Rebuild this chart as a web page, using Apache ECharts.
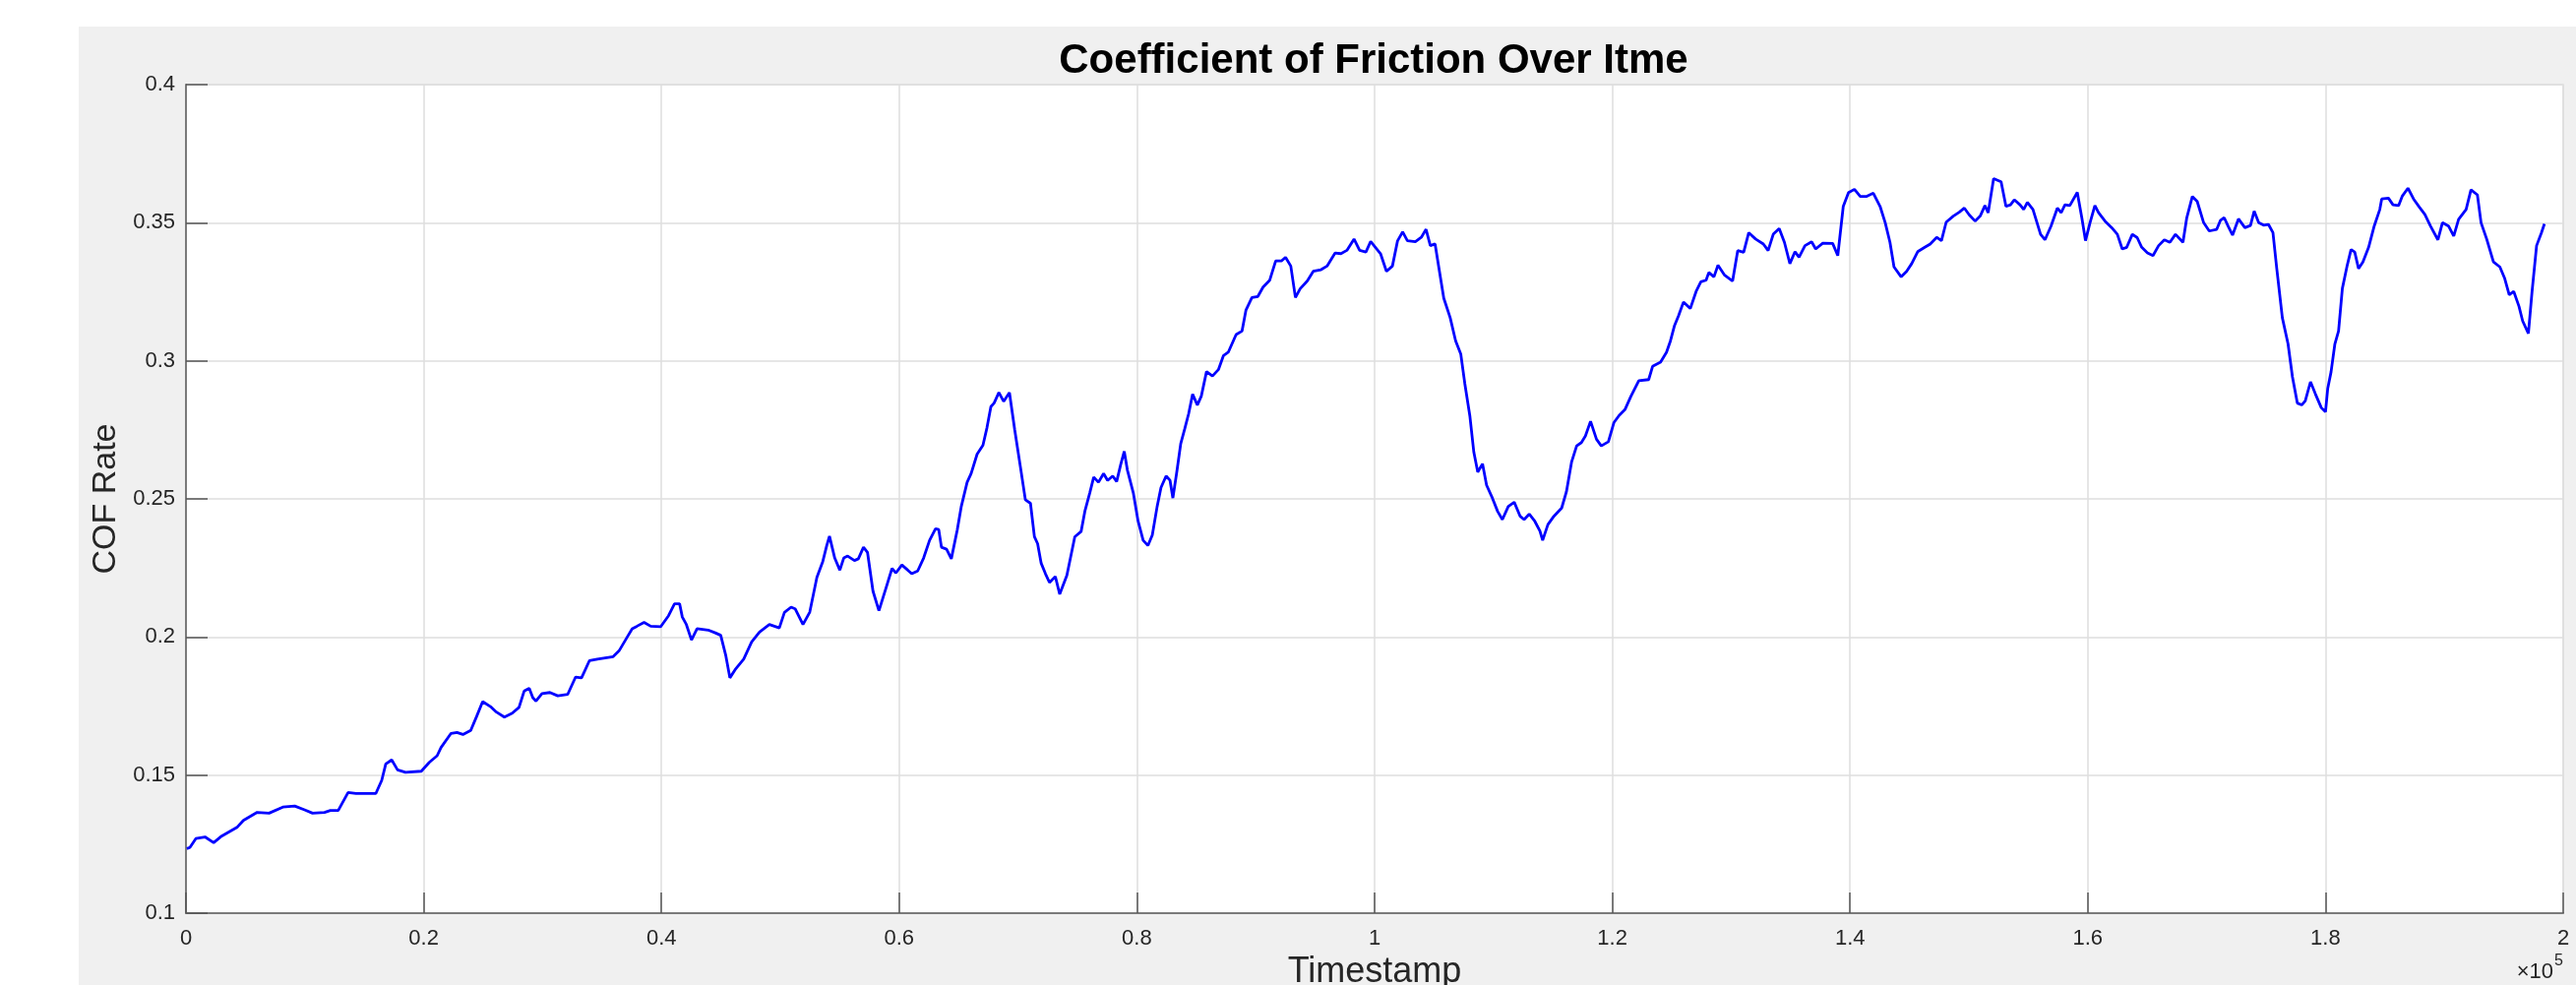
<!DOCTYPE html>
<html>
<head>
<meta charset="utf-8">
<title>Coefficient of Friction Over Itme</title>
<script src="https://cdn.jsdelivr.net/npm/echarts@6/dist/echarts.min.js"></script>
<style>
html, body { margin: 0; padding: 0; background: #fff; }
#chart { width: 2618px; height: 1001px; }
</style>
</head>
<body>
<div id="chart"></div>
<script>
// timestamps are in units of 10^5 (axis shows the x10^5 multiplier)
var timestampE5 = [
  0.0007, 0.0033, 0.0083, 0.016, 0.0233, 0.03, 0.0433, 0.0483, 0.0599, 0.0699,
  0.0815, 0.0915, 0.0998, 0.1065, 0.1165, 0.1215, 0.1281, 0.1364, 0.1431, 0.1597,
  0.1647, 0.1681, 0.1731, 0.178, 0.1847, 0.198, 0.2047, 0.2113, 0.2146, 0.223,
  0.228, 0.233, 0.2396, 0.2446, 0.2496, 0.2562, 0.2612, 0.2679, 0.2745, 0.2802,
  0.2845, 0.2888, 0.2918, 0.2945, 0.2995, 0.3062, 0.3128, 0.3211, 0.3278, 0.3328,
  0.3394, 0.3461, 0.3594, 0.3644, 0.371, 0.3754, 0.3794, 0.3854, 0.391, 0.3993,
  0.406, 0.411, 0.4153, 0.4176, 0.421, 0.4253, 0.43, 0.4393, 0.4453, 0.4499,
  0.4542, 0.4576, 0.4626, 0.4692, 0.4759, 0.4825, 0.4908, 0.4992,
  0.5035, 0.5091, 0.5125, 0.5191, 0.5248, 0.5308, 0.5358, 0.5391, 0.5414, 0.5458,
  0.5501, 0.5534, 0.5567, 0.5624, 0.5657, 0.57, 0.5734, 0.578, 0.583, 0.589,
  0.594, 0.5973, 0.6023, 0.6073, 0.6106, 0.6156, 0.6206, 0.6256, 0.6306, 0.6333,
  0.6356, 0.6399, 0.6439, 0.6489, 0.6522, 0.6572, 0.6606, 0.6656, 0.6705, 0.6739,
  0.6772, 0.6799, 0.6839, 0.6879, 0.6928, 0.6972, 0.7022, 0.7062, 0.7105, 0.7138,
  0.7165, 0.7195, 0.7231, 0.7265, 0.7314, 0.7351, 0.7411, 0.7478, 0.7531, 0.7564,
  0.7604, 0.7637, 0.7677, 0.772, 0.7754, 0.7797, 0.783, 0.7864, 0.7894, 0.792,
  0.797, 0.801, 0.8053, 0.8093, 0.813, 0.817, 0.8203, 0.8246, 0.8279, 0.8303,
  0.8336, 0.8369, 0.8403, 0.8436, 0.8469, 0.8509, 0.8542, 0.8586, 0.8636, 0.8686,
  0.8729, 0.8769, 0.8835, 0.8885, 0.8918, 0.8968, 0.9018, 0.9062, 0.9118, 0.9168,
  0.9218, 0.9251, 0.9295, 0.9334, 0.9374, 0.9434, 0.9484, 0.955, 0.96, 0.9667,
  0.9717, 0.9767, 0.9827, 0.9874, 0.9927, 0.9967, 1.005, 1.01, 1.015, 1.0193,
  1.0236, 1.0276, 1.0343, 1.0393, 1.0433, 1.0469, 1.0509, 1.0542, 1.0582, 1.0636,
  1.0682, 1.0725, 1.0759, 1.0802, 1.0835, 1.0868, 1.0908, 1.0942, 1.0992, 1.1035,
  1.1075, 1.1125, 1.1175, 1.1225, 1.1258, 1.1301, 1.1348, 1.1391, 1.1414, 1.1458,
  1.1508, 1.1574, 1.1614, 1.1657, 1.17, 1.174, 1.1774, 1.1817, 1.1867, 1.1907,
  1.1967, 1.2013, 1.2057, 1.2106, 1.2156, 1.2223, 1.2306, 1.2339, 1.2406, 1.2456,
  1.2489, 1.2522, 1.2556, 1.2599, 1.2656, 1.2705, 1.2745, 1.2789, 1.2812, 1.2855,
  1.2889, 1.2945, 1.3012, 1.3055, 1.3105, 1.3148, 1.3205, 1.3271, 1.3311, 1.3354,
  1.3404, 1.3448, 1.3494, 1.3537, 1.3571, 1.3621, 1.3677, 1.3711, 1.3771, 1.3854,
  1.3897, 1.3943, 1.3987, 1.4037, 1.4086, 1.4136, 1.4196, 1.4253, 1.4296, 1.4336,
  1.437, 1.443, 1.4476, 1.4519, 1.4569, 1.4629, 1.4675, 1.4729, 1.4769, 1.4809,
  1.4869, 1.4919, 1.4962, 1.5002, 1.5052, 1.5095, 1.5135, 1.5162,
  1.5208, 1.5271, 1.5312, 1.535, 1.5382, 1.543, 1.5461, 1.5492, 1.5539, 1.5603,
  1.564, 1.5691, 1.5744, 1.5776, 1.5808, 1.5849, 1.5912, 1.595, 1.5981, 1.6019,
  1.606, 1.6091, 1.6145, 1.6202, 1.6249, 1.629, 1.6328, 1.6375, 1.6416, 1.6454,
  1.6502, 1.6549, 1.6596, 1.6644, 1.6691, 1.6738, 1.6801, 1.6833, 1.688, 1.6921,
  1.6975, 1.7022, 1.7085, 1.7117, 1.7148, 1.718, 1.7218, 1.7268, 1.7322, 1.7369,
  1.74, 1.7438, 1.7479, 1.752, 1.7558, 1.759, 1.7637, 1.7685, 1.7722, 1.7763,
  1.78, 1.783, 1.7874, 1.7915, 1.7965, 1.8, 1.8019, 1.8047, 1.8079, 1.811,
  1.8142, 1.8183, 1.8215, 1.8246, 1.8278, 1.8315, 1.8363, 1.841, 1.8457, 1.8473,
  1.853, 1.8568, 1.8615, 1.8647, 1.8694, 1.8741, 1.8789, 1.8836, 1.8883, 1.8946,
  1.8984, 1.9035, 1.9079, 1.912, 1.9183, 1.9224, 1.9278, 1.9309, 1.9356, 1.9413,
  1.9467, 1.9508, 1.9546, 1.9584, 1.9628, 1.9659, 1.9707, 1.9738, 1.9776, 1.9817,
  1.9842
];
var cofRate = [
  0.1234, 0.1238, 0.127, 0.1276, 0.1255, 0.1279, 0.1312, 0.1336, 0.1365, 0.1362,
  0.1384, 0.1388, 0.1374, 0.1362, 0.1365, 0.1372, 0.1372, 0.1437, 0.1433, 0.1433,
  0.1481, 0.154, 0.1555, 0.1519, 0.151, 0.1514, 0.1546, 0.157, 0.16, 0.1651,
  0.1654, 0.1647, 0.1662, 0.1713, 0.1766, 0.1748, 0.1728, 0.171, 0.1724, 0.1745,
  0.1804, 0.1814, 0.178, 0.1768, 0.1795, 0.1799, 0.1787, 0.1792, 0.1855, 0.1852,
  0.1914, 0.192, 0.1929, 0.195, 0.1998, 0.203, 0.2039, 0.2053, 0.2039, 0.2037,
  0.2077, 0.212, 0.212, 0.2072, 0.2045, 0.1989, 0.203, 0.2025, 0.2015, 0.2006,
  0.1932, 0.1852, 0.1885, 0.192, 0.1982, 0.2018, 0.2045, 0.2033,
  0.2089, 0.2108, 0.2102, 0.2045, 0.209, 0.2216, 0.2274, 0.2331, 0.2365, 0.2286,
  0.2242, 0.2286, 0.2293, 0.2277, 0.2283, 0.2325, 0.2306, 0.2166, 0.2095, 0.2178,
  0.2248, 0.2232, 0.2261, 0.2242, 0.2229, 0.2239, 0.2286, 0.235, 0.2392, 0.2389,
  0.2325, 0.2318, 0.2283, 0.2388, 0.2471, 0.256, 0.2592, 0.2662, 0.2694, 0.2758,
  0.2834, 0.2847, 0.2885, 0.2853, 0.2885, 0.2751, 0.2611, 0.2497, 0.2484, 0.2363,
  0.2338, 0.2267, 0.2229, 0.2197, 0.2219, 0.2155, 0.2223, 0.2363, 0.2382, 0.2458,
  0.2522, 0.2579, 0.256, 0.2592, 0.2567, 0.2583, 0.2563, 0.2624, 0.2672, 0.2605,
  0.2522, 0.242, 0.235, 0.2331, 0.2369, 0.2471, 0.2541, 0.2583, 0.2567, 0.2503,
  0.2598, 0.27, 0.2754, 0.2809, 0.2879, 0.284, 0.2872, 0.2961, 0.2945, 0.2968,
  0.3019, 0.3031, 0.3095, 0.3108, 0.3184, 0.3229, 0.3233, 0.3267, 0.3292, 0.3362,
  0.3362, 0.3375, 0.3343, 0.3229, 0.3261, 0.3289, 0.3324, 0.333, 0.3343, 0.339,
  0.3388, 0.34, 0.3441, 0.34, 0.3394, 0.3432, 0.3388, 0.3324, 0.3343, 0.3434,
  0.3467, 0.3435, 0.3431, 0.3447, 0.3476, 0.3417, 0.3423, 0.3334, 0.3227, 0.3156,
  0.3072, 0.3025, 0.2918, 0.2799, 0.2669, 0.2597, 0.2627, 0.255, 0.2502, 0.2455,
  0.2425, 0.2473, 0.2488, 0.2437, 0.2425, 0.2445, 0.2419, 0.2384, 0.235, 0.2407,
  0.2437, 0.2467, 0.2526, 0.2633, 0.2692, 0.2704, 0.2728, 0.2781, 0.2716, 0.2692,
  0.2707, 0.2776, 0.2802, 0.2823, 0.2871, 0.2928, 0.2932, 0.298, 0.2995, 0.3031,
  0.3072, 0.3126, 0.3162, 0.3213, 0.3189, 0.3251, 0.3286, 0.3292, 0.332, 0.3304,
  0.3346, 0.331, 0.3289, 0.3399, 0.3393, 0.3464, 0.3441, 0.3423, 0.3399, 0.3458,
  0.3479, 0.3429, 0.3352, 0.3395, 0.3375, 0.3417, 0.3431, 0.3405, 0.3426, 0.3425,
  0.3381, 0.3559, 0.3609, 0.3621, 0.3595, 0.3595, 0.3607, 0.3559, 0.35, 0.3429,
  0.334, 0.3304, 0.3324, 0.3352, 0.3395, 0.3411, 0.3423, 0.3447, 0.3435, 0.3502,
  0.3524, 0.3538, 0.3553, 0.3529, 0.3506, 0.3524, 0.3562, 0.3536,
  0.366, 0.3648, 0.3559, 0.3565, 0.3583, 0.3565, 0.3548, 0.3574, 0.3548, 0.3458,
  0.3438, 0.3488, 0.3553, 0.3536, 0.3565, 0.3562, 0.361, 0.3518, 0.3435, 0.35,
  0.3562, 0.3536, 0.3506, 0.3482, 0.3458, 0.3405, 0.3411, 0.3458, 0.3446, 0.3411,
  0.3391, 0.3381, 0.3417, 0.3438, 0.3429, 0.3458, 0.3429, 0.3518, 0.3595, 0.3577,
  0.35, 0.347, 0.3476, 0.3509, 0.3518, 0.3488, 0.3455, 0.3514, 0.3482, 0.349,
  0.3542, 0.35, 0.3491, 0.3494, 0.3464, 0.3334, 0.3156, 0.3061, 0.2942, 0.2847,
  0.284, 0.2855, 0.2924, 0.288, 0.283, 0.2815, 0.29, 0.296, 0.3061, 0.3108,
  0.3262, 0.3346, 0.3403, 0.3394, 0.3334, 0.3358, 0.3411, 0.3488, 0.3548, 0.3586,
  0.3589, 0.3565, 0.3562, 0.3597, 0.3625, 0.3586, 0.3557, 0.353, 0.3488, 0.3438,
  0.35, 0.3488, 0.3452, 0.3512, 0.3548, 0.3619, 0.3601, 0.35, 0.3441, 0.3358,
  0.334, 0.3298, 0.3239, 0.3251, 0.3197, 0.3144, 0.3099, 0.3251, 0.3417, 0.3464,
  0.3496
];

var fontName = '"Liberation Sans", Arial, Helvetica, sans-serif';

var chart = echarts.init(document.getElementById('chart'), null, { renderer: 'canvas' });

var seriesData = timestampE5.map(function (t, i) { return [t, cofRate[i]]; });

chart.setOption({
  animation: false,
  backgroundColor: '#f0f0f0',
  title: {
    text: 'Coefficient of Friction Over Itme',
    left: 1391,
    top: 36,
    textAlign: 'center',
    textStyle: { fontFamily: fontName, fontSize: 42, fontWeight: 'bold', color: '#000' }
  },
  grid: {
    left: 189,
    right: 13,
    top: 86,
    bottom: 73,
    outerBoundsMode: 'none',
    containLabel: false,
    show: true,
    backgroundColor: '#fff',
    borderColor: '#dedede',
    borderWidth: 1.5
  },
  xAxis: {
    type: 'value',
    min: 0,
    max: 2,
    interval: 0.2,
    name: 'Timestamp',
    nameLocation: 'middle',
    nameGap: 38,
    nameTextStyle: { fontFamily: fontName, fontSize: 36, color: '#262626' },
    axisLine: { show: true, lineStyle: { color: '#7a7a7a', width: 2 } },
    axisTick: { show: true, inside: true, length: 21, lineStyle: { color: '#555', width: 1.5 } },
    axisLabel: {
      margin: 15,
      fontFamily: fontName,
      fontSize: 22,
      color: '#262626',
      formatter: function (v) { return String(+v.toFixed(1)); }
    },
    splitLine: { show: true, lineStyle: { color: '#dedede', width: 1.5 } }
  },
  yAxis: {
    type: 'value',
    min: 0.1,
    max: 0.4,
    interval: 0.05,
    name: 'COF Rate',
    nameLocation: 'middle',
    nameRotate: 90,
    nameGap: 64,
    nameTextStyle: { fontFamily: fontName, fontSize: 34, color: '#262626' },
    axisLine: { show: true, lineStyle: { color: '#7a7a7a', width: 2 } },
    axisTick: { show: true, inside: true, length: 22, lineStyle: { color: '#555', width: 1.5 } },
    axisLabel: {
      margin: 11,
      fontFamily: fontName,
      fontSize: 22,
      color: '#262626',
      formatter: function (v) { return String(+v.toFixed(2)); }
    },
    splitLine: { show: true, lineStyle: { color: '#dedede', width: 1.5 } }
  },
  graphic: [
    // white margin round the grey figure area
    { type: 'rect', left: 0, top: 0, shape: { width: 80, height: 1001 }, style: { fill: '#fff' }, silent: true },
    { type: 'rect', left: 0, top: 0, shape: { width: 2618, height: 27 }, style: { fill: '#fff' }, silent: true },
    // x10^5 exponent label
    { type: 'text', x: 2595, y: 988, style: { text: '\u00d710', fontFamily: fontName, fontSize: 22, fill: '#262626', align: 'right', verticalAlign: 'middle' } },
    { type: 'text', x: 2596, y: 977, style: { text: '5', fontFamily: fontName, fontSize: 16, fill: '#262626', align: 'left', verticalAlign: 'middle' } }
  ],
  series: [{
    name: 'COF Rate',
    type: 'line',
    data: seriesData,
    showSymbol: false,
    symbol: 'none',
    lineStyle: { color: '#0000ff', width: 2.8 },
    itemStyle: { color: '#0000ff' },
    z: 5
  }]
});
</script>
</body>
</html>
